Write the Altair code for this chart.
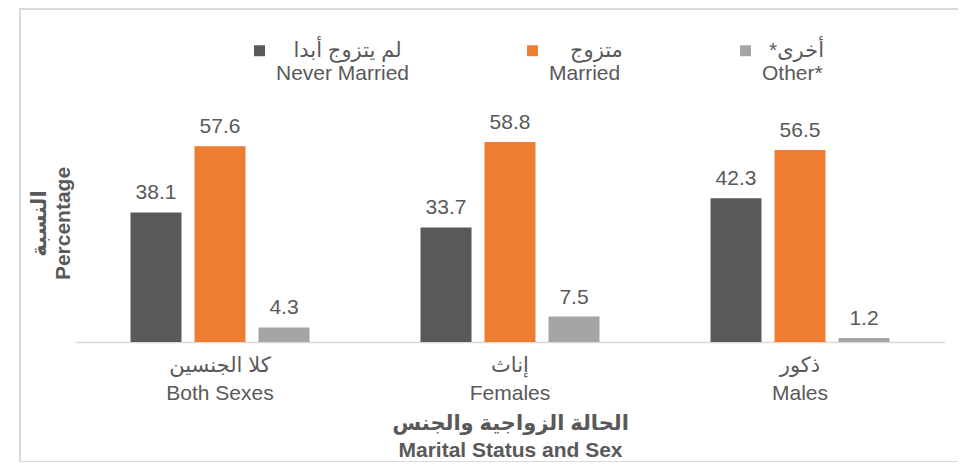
import altair as alt
import pandas as pd

categories_en = ["Both Sexes", "Females", "Males"]
categories_ar = ["كلا الجنسين", "إناث", "ذكور"]
series_en = ["Never Married", "Married", "Other*"]
series_ar = ["لم يتزوج  أبدا", "متزوج", "أخرى*\u200f"]
never_married = [38.1, 33.7, 42.3]
married = [57.6, 58.8, 56.5]
other = [4.3, 7.5, 1.2]
colors = ["#595959", "#ED7D31", "#A5A5A5"]

# thin spaces (after a left-to-right mark) push the Arabic legend line right
legend_pad = [5, 6, 2]

values = [never_married, married, other]
rows = []
cat_keys = [a + "|" + e for a, e in zip(categories_ar, categories_en)]
ser_keys = ["\u200e" + ("\u2006" * p) + a + "|" + e
            for a, e, p in zip(series_ar, series_en, legend_pad)]
for si, sk in enumerate(ser_keys):
    for ci, ck in enumerate(cat_keys):
        rows.append({"cat": ck, "series": sk, "value": values[si][ci]})
df = pd.DataFrame(rows)

FONT = "Liberation Sans, Arial, DejaVu Sans"
TXT = "#595959"

x_enc = alt.X(
    "cat:N", sort=cat_keys,
    scale=alt.Scale(paddingInner=0.338, paddingOuter=0.169),
    axis=alt.Axis(
        labelExpr="split(datum.label, '|')", labelAngle=0, labelFontSize=21,
        labelColor=TXT, labelFont=FONT, labelPadding=12, labelLineHeight=28,
        ticks=False, domainColor="#D9D9D9", domainWidth=1.5,
        title=["الحالة الزواجية والجنس", "Marital Status and Sex"],
        titleFontSize=21, titleFont=FONT, titleColor=TXT, titleFontWeight="bold",
        titlePadding=9, titleLineHeight=27,
    ),
)
xoff = alt.XOffset("series:N", sort=ser_keys,
                   scale=alt.Scale(paddingInner=0.203, paddingOuter=0.1015))
y_enc = alt.Y(
    "value:Q", scale=alt.Scale(domain=[0, 70]),
    axis=alt.Axis(
        labels=False, ticks=False, domain=False, grid=False,
        title=["النسبة", "Percentage"], titleFontSize=21, titleFont=FONT,
        titleColor=TXT, titleFontWeight="bold", titlePadding=2, titleLineHeight=24,
    ),
)

bars = alt.Chart(df).mark_bar().encode(
    x=x_enc, xOffset=xoff, y=y_enc,
    color=alt.Color(
        "series:N", sort=ser_keys,
        scale=alt.Scale(domain=ser_keys, range=colors),
        legend=alt.Legend(
            orient="none", legendX=174, legendY=-64, direction="horizontal",
            title=None, labelExpr="split(datum.label, '|')", symbolType="square",
            symbolSize=120, symbolStrokeWidth=0, labelFontSize=21, labelFont=FONT,
            labelColor=TXT, labelOffset=6, columnPadding=112,
            labelBaseline="middle", labelLimit=300,
        ),
    ),
)
labels = alt.Chart(df).mark_text(
    dy=-13, fontSize=21, font=FONT, color=TXT, baseline="alphabetic"
).encode(
    x=alt.X("cat:N", sort=cat_keys), xOffset=alt.XOffset("series:N", sort=ser_keys),
    y="value:Q", text=alt.Text("value:Q", format=".1f"),
)

frame = alt.Chart(pd.DataFrame({"f": [0]})).mark_rect(
    fill=None, stroke="#D9D9D9", strokeWidth=2
).encode(
    x=alt.value(-55), x2=alt.value(905), y=alt.value(-95), y2=alt.value(120 + 238)
)

chart = alt.layer(frame, bars, labels).properties(
    width=870, height=238,
    autosize=alt.AutoSizeParams(type="none"),
    padding={"left": 67, "top": 96, "right": 13, "bottom": 120},
).configure_view(stroke=None)

chart.save("out.html", embed_options={"renderer": "svg", "actions": False})
